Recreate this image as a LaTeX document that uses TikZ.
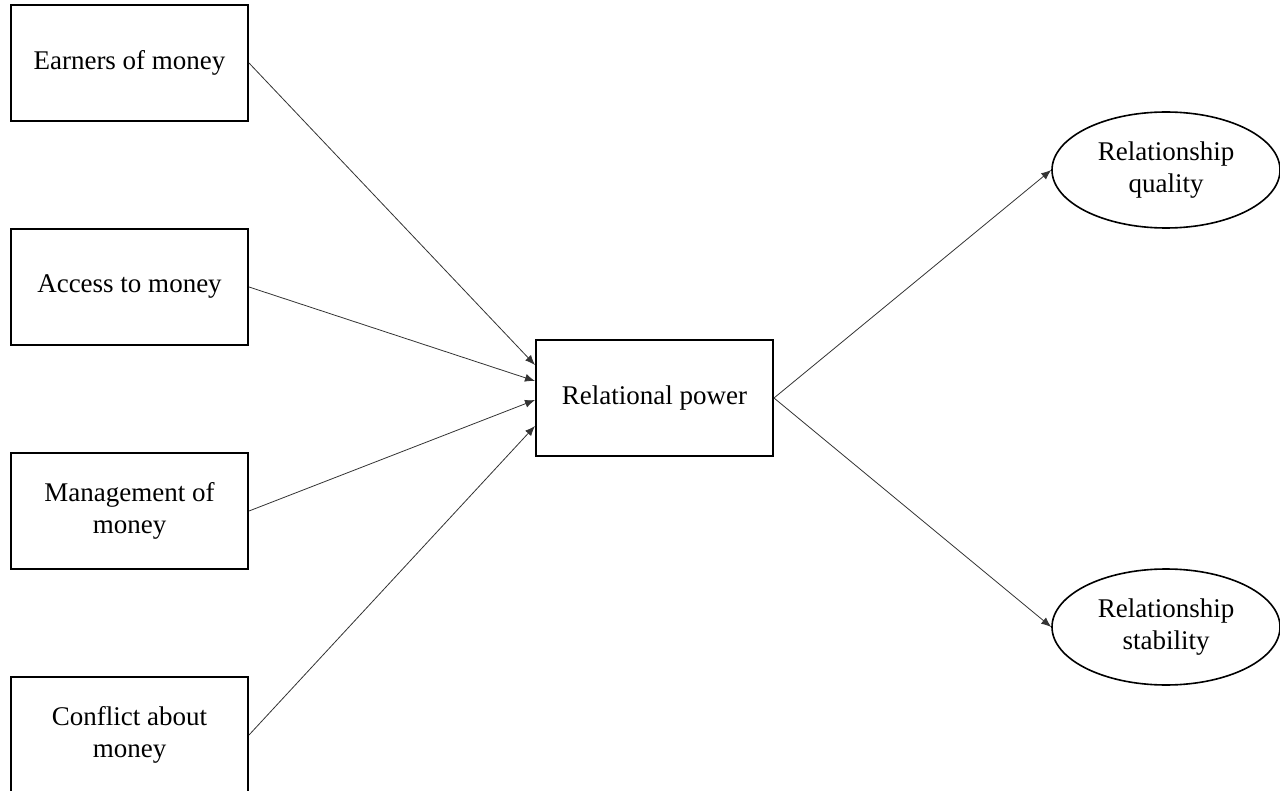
\documentclass[tikz,border=0pt]{standalone}
\usepackage{fontspec}
\setmainfont{Liberation Serif}
\usetikzlibrary{arrows.meta}
\usetikzlibrary{shapes.geometric}

\begin{document}
\begin{tikzpicture}[x=0.5pt,y=-0.5pt,
  box/.style={draw, line width=1pt, minimum width=118.5pt, minimum height=58pt, align=center, inner sep=0pt, font=\fontsize{13.5}{16}\selectfont},
  oval/.style={draw, ellipse, line width=0.8pt, minimum width=114pt, minimum height=58pt, align=center, inner sep=0pt, font=\fontsize{13.5}{16}\selectfont},
  arr/.style={line width=0.4pt, draw=black!80, -{Latex[length=5pt,width=4pt]}}]
\useasboundingbox (0,0) rectangle (1280,791);

\node [box] (earn) at (129.5,63) {Earners of money};
\node [box] (access) at (129.5,287) {Access to money};
\node [box] (manage) at (129.5,511) {Management of\\money};
\node [box] (conflict) at (129.5,735) {Conflict about\\money};
\node [box] (power) at (654.5,398) {Relational power};
\node [oval] (quality) at (1166,170) {Relationship\\quality};
\node [oval] (stability) at (1166,627) {Relationship\\stability};

\draw [arr] (earn.east) -- ([yshift=16.5pt]power.west);
\draw [arr] (access.east) -- ([yshift=8.5pt]power.west);
\draw [arr] (manage.east) -- ([yshift=-1pt]power.west);
\draw [arr] (conflict.east) -- ([yshift=-14pt]power.west);
\draw [arr] (power.east) -- (quality.west);
\draw [arr] (power.east) -- (stability.west);
\end{tikzpicture}
\end{document}
